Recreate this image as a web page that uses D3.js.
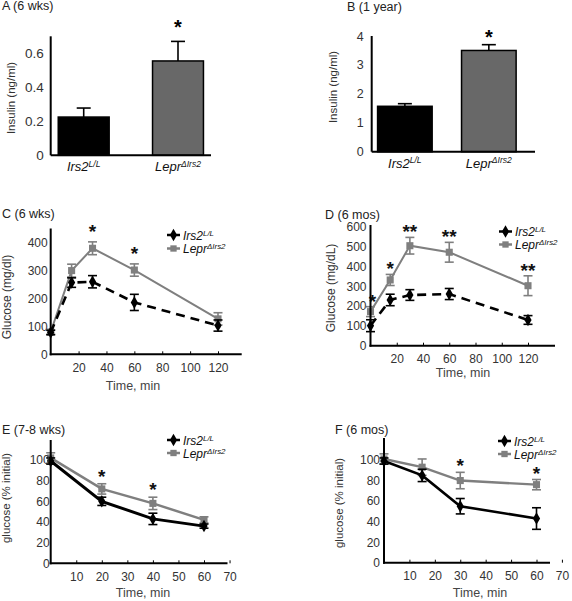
<!DOCTYPE html>
<html><head><meta charset="utf-8">
<script src="https://cdn.jsdelivr.net/npm/d3@7/dist/d3.min.js"></script>
<style>
body{margin:0;background:#fff;}
svg{font-family:"Liberation Sans",Arial,sans-serif;}
</style></head>
<body><svg id="c" width="572" height="601"></svg>
<script>
// ---------- DATA ----------
const groups = ["Irs2", "Lepr"];
const A_values = [0.225, 0.555];
const A_err = [0.053, 0.115];
const A_ticks = [0, 0.2, 0.4, 0.6];
const B_values = [1.57, 3.5];
const B_err = [0.09, 0.2];
const B_ticks = [0, 1, 2, 3, 4];

const C_time = [0, 15, 30, 60, 120];
const C_irs2 = [78, 257, 260, 186, 103];
const C_irs2_err = [8, 17, 22, 29, 20];
const C_lepr = [80, 300, 380, 302, 127];
const C_lepr_err = [8, 23, 23, 22, 22];
const C_stars = ["", "", "*", "*", ""];
const C_yticks = [0, 100, 200, 300, 400];
const C_xticks = [20, 40, 60, 80, 100, 120];

const D_time = [0, 15, 30, 60, 120];
const D_irs2 = [101, 231, 256, 261, 130];
const D_irs2_err = [30, 29, 27, 28, 22];
const D_lepr = [172, 332, 505, 472, 303];
const D_lepr_err = [25, 28, 42, 50, 50];
const D_stars = ["*", "*", "**", "**", "**"];
const D_yticks = [0, 100, 200, 300, 400, 500, 600];
const D_xticks = [20, 40, 60, 80, 100, 120];

const E_time = [0, 20, 40, 60];
const E_irs2 = [99, 60, 43, 36];
const E_irs2_err = [3, 4, 5.5, 2];
const E_lepr = [102, 72, 58, 42];
const E_lepr_err = [5, 5, 6, 3];
const E_stars = ["", "*", "*", ""];
const E_yticks = [0, 20, 40, 60, 80, 100];
const E_xticks = [10, 20, 30, 40, 50, 60, 70];

const F_time = [0, 15, 30, 60];
const F_irs2 = [99, 85, 55, 43];
const F_irs2_err = [3, 6, 7.5, 10.5];
const F_lepr = [101, 93, 80, 76];
const F_lepr_err = [5, 8, 8, 5];
const F_stars = ["", "", "*", "*"];
const F_yticks = [0, 20, 40, 60, 80, 100];
const F_xticks = [10, 20, 30, 40, 50, 60, 70];

// ---------- HELPERS ----------
const svg = d3.select("#c");
const GRAY = "#7f7f7f";
const BARGRAY = "#686868";

function geneLabel(sel, base, sup, x, y, size, anchor) {
  const t = sel.append("text").attr("x", x).attr("y", y)
    .attr("font-size", size).attr("font-style", "italic")
    .attr("text-anchor", anchor || "start").attr("fill", "#111");
  t.append("tspan").text(base);
  t.append("tspan").attr("font-size", size * 0.66).attr("dy", -size * 0.33).text(sup);
  return t;
}
function labelFor(g) { return g === "Irs2" ? ["Irs2", "L/L"] : ["Lepr", "\u0394Irs2"]; }

function title(x, y, txt) {
  svg.append("text").attr("x", x).attr("y", y).attr("font-size", 12.5).attr("fill", "#222").text(txt);
}
function yTitle(x, y, txt, size) {
  svg.append("text").attr("transform", `translate(${x},${y}) rotate(-90)`)
    .attr("text-anchor", "middle").attr("font-size", size).attr("fill", "#333").text(txt);
}

// ---------- BAR PANELS ----------
function barPanel(cfg) {
  const g = svg.append("g");
  const x = d3.scaleBand().domain(groups).range([cfg.x0, cfg.x1]).paddingInner(cfg.pin).paddingOuter(cfg.pout);
  const y = d3.scaleLinear().domain(cfg.ydom).range([cfg.yb, cfg.yt]);
  g.selectAll("rect.bar").data(groups).join("rect")
    .attr("x", d => x(d)).attr("width", x.bandwidth())
    .attr("y", (d, i) => y(cfg.values[i])).attr("height", (d, i) => y(0) - y(cfg.values[i]))
    .attr("fill", (d, i) => i === 0 ? "#000" : BARGRAY).attr("stroke", "#000").attr("stroke-width", 1.5);
  groups.forEach((d, i) => {
    const cx = x(d) + x.bandwidth() / 2;
    const top = y(cfg.values[i] + cfg.err[i]);
    g.append("line").attr("x1", cx).attr("x2", cx).attr("y1", y(cfg.values[i])).attr("y2", top).attr("stroke", "#000").attr("stroke-width", 1.6);
    g.append("line").attr("x1", cx - 7).attr("x2", cx + 7).attr("y1", top).attr("y2", top).attr("stroke", "#000").attr("stroke-width", 1.6);
    if (i === 1) g.append("text").attr("x", cx).attr("y", top + cfg.starDy).attr("text-anchor", "middle")
      .attr("font-size", 20).attr("font-weight", "bold").text("*");
    const [b, s] = labelFor(d);
    geneLabel(g, b, s, cx, cfg.yb + 16, cfg.lab, "middle");
  });
  const ax = g.append("g").attr("transform", `translate(${cfg.x0},0)`)
    .call(d3.axisLeft(y).tickValues(cfg.ticks).tickSize(0).tickPadding(cfg.pad).tickFormat(cfg.fmt));
  ax.select(".domain").remove();
  ax.selectAll("text").attr("font-size", cfg.tf).attr("fill", "#333").attr("font-family", "Liberation Sans, Arial, sans-serif");
  g.append("line").attr("x1", cfg.x0).attr("x2", cfg.x0).attr("y1", y(cfg.ydom[1])).attr("y2", cfg.yb).attr("stroke", "#000").attr("stroke-width", 2);
  g.append("line").attr("x1", cfg.x0).attr("x2", cfg.xe).attr("y1", cfg.yb).attr("y2", cfg.yb).attr("stroke", "#000").attr("stroke-width", 2);
}

barPanel({x0: 50.7, x1: 211, xe: 211, pin: 0.46, pout: 0.08, yb: 155.3, yt: 36.3, ydom: [0, 0.7],
  values: A_values, err: A_err, ticks: A_ticks, fmt: d => d === 0 ? "0" : d3.format(".1f")(d), pad: 7, tf: 13.5, lab: 13, starDy: -7});
barPanel({x0: 371.7, x1: 522, xe: 535, pin: 0.35, pout: 0.07, yb: 151.7, yt: 36, ydom: [0, 4],
  values: B_values, err: B_err, ticks: B_ticks, fmt: d3.format("d"), pad: 8, tf: 12.5, lab: 13, starDy: -1});
title(2, 10, "A (6 wks)");
title(347, 11, "B (1 year)");
yTitle(15, 98, "Insulin  (ng/ml)", 11.5);
yTitle(337, 87, "Insulin  (ng/ml)", 11.5);

// ---------- LINE PANELS ----------
function linePanel(cfg) {
  const g = svg.append("g");
  const x = d3.scaleLinear().domain(cfg.xdom).range([cfg.x0, cfg.x1]);
  const y = d3.scaleLinear().domain(cfg.ydom).range([cfg.yb, cfg.yt]);
  const series = [
    {v: cfg.irs2, e: cfg.irs2e, color: "#000", dash: cfg.dash, w: cfg.wb, mark: "diamond"},
    {v: cfg.lepr, e: cfg.lepre, color: GRAY, dash: null, w: cfg.wg, mark: "square"}
  ];
  const line = d3.line().x(d => x(d[0])).y(d => y(d[1]));
  [series[1], series[0]].forEach(s => {
    const pts = cfg.time.map((t, i) => [t, s.v[i]]);
    g.append("path").attr("d", line(pts)).attr("fill", "none").attr("stroke", s.color)
      .attr("stroke-width", s.w).attr("stroke-dasharray", s.dash);
    cfg.time.forEach((t, i) => {
      const cx = x(t), lo = y(s.v[i] - s.e[i]), hi = y(s.v[i] + s.e[i]);
      g.append("line").attr("x1", cx).attr("x2", cx).attr("y1", lo).attr("y2", hi).attr("stroke", s.color).attr("stroke-width", 1.6);
      [lo, hi].forEach(yy => g.append("line").attr("x1", cx - 4.5).attr("x2", cx + 4.5).attr("y1", yy).attr("y2", yy).attr("stroke", s.color).attr("stroke-width", 1.6));
      const sym = d3.symbol().type(s.mark === "diamond" ? d3.symbolDiamond : d3.symbolSquare).size(s.mark === "diamond" ? 45 : 50);
      g.append("path").attr("d", sym()).attr("transform", `translate(${cx},${y(s.v[i])})`).attr("fill", s.color);
    });
  });
  cfg.time.forEach((t, i) => {
    if (!cfg.stars[i]) return;
    const top = Math.min(y(cfg.irs2[i] + cfg.irs2e[i]), y(cfg.lepr[i] + cfg.lepre[i]));
    g.append("text").attr("x", x(t) + (i === 0 ? cfg.star0dx || 0 : 0)).attr("y", top + cfg.starDy + (i === 0 ? cfg.star0dy || 0 : 0))
      .attr("text-anchor", "middle").attr("font-size", 19).attr("font-weight", "bold").attr("fill", "#111").text(cfg.stars[i]);
  });
  const ay = g.append("g").attr("transform", `translate(${cfg.x0},0)`)
    .call(d3.axisLeft(y).tickValues(cfg.yticks).tickSize(0).tickPadding(cfg.ypad));
  ay.select(".domain").remove();
  ay.selectAll("text").attr("font-size", cfg.tf).attr("fill", "#333").attr("font-family", "Liberation Sans, Arial, sans-serif");
  const axx = g.append("g").attr("transform", `translate(0,${cfg.yb})`)
    .call(d3.axisBottom(x).tickValues(cfg.xticks).tickSize(-3).tickPadding(9));
  axx.select(".domain").remove();
  axx.selectAll("line").attr("stroke", "#000").attr("stroke-width", 1);
  axx.selectAll("text").attr("font-size", cfg.tf).attr("fill", "#333").attr("font-family", "Liberation Sans, Arial, sans-serif");
  g.append("line").attr("x1", cfg.x0).attr("x2", cfg.x0).attr("y1", cfg.ytop).attr("y2", cfg.yb + 1).attr("stroke", "#000").attr("stroke-width", 2);
  g.append("line").attr("x1", cfg.x0 - 1).attr("x2", cfg.xe).attr("y1", cfg.yb).attr("y2", cfg.yb).attr("stroke", "#000").attr("stroke-width", 2);
  const L = cfg.leg;
  [["Irs2", "#000", "diamond", L.y1], ["Lepr", GRAY, "square", L.y2]].forEach(([gname, col, mk, ly]) => {
    g.append("line").attr("x1", L.x).attr("x2", L.x + 13).attr("y1", ly).attr("y2", ly).attr("stroke", col).attr("stroke-width", 2.5);
    const sym = d3.symbol().type(mk === "diamond" ? d3.symbolDiamond : d3.symbolSquare).size(mk === "diamond" ? 45 : 40);
    g.append("path").attr("d", sym()).attr("transform", `translate(${L.x + 6.5},${ly})`).attr("fill", col);
    const [b, s] = labelFor(gname);
    geneLabel(g, b, s, L.x + 16, ly + 4.5, 12, "start");
  });
  g.append("text").attr("x", cfg.xtx).attr("y", cfg.xty).attr("text-anchor", "middle")
    .attr("font-size", 12.5).attr("fill", "#444").text("Time, min");
}

linePanel({x0: 50.7, x1: 218, xe: 241.7, xdom: [0, 120], yb: 354.3, yt: 242.7, ytop: 228.5, ydom: [0, 400],
  time: C_time, irs2: C_irs2, irs2e: C_irs2_err, lepr: C_lepr, lepre: C_lepr_err, stars: C_stars,
  yticks: C_yticks, xticks: C_xticks, ypad: 3, tf: 12, dash: "9,6", wb: 2.6, wg: 2, starDy: -4,
  leg: {x: 167, y1: 235, y2: 248.5}, xtx: 133, xty: 390});
title(2, 218, "C (6 wks)");
yTitle(11, 297, "Glucose (mg/dl)", 12);

linePanel({x0: 370.5, x1: 528, xe: 555, xdom: [0, 120], yb: 345.7, yt: 226.9, ytop: 225, ydom: [0, 600],
  time: D_time, irs2: D_irs2, irs2e: D_irs2_err, lepr: D_lepr, lepre: D_lepr_err, stars: D_stars,
  yticks: D_yticks, xticks: D_xticks, ypad: 4, tf: 12, dash: "9,6", wb: 2.6, wg: 2, starDy: 1,
  star0dx: 2, star0dy: 0,
  leg: {x: 499, y1: 231.5, y2: 244.5}, xtx: 463, xty: 377});
title(325, 218.5, "D (6 mos)");
yTitle(335, 288, "Glucose (mg/dL)", 12);

linePanel({x0: 50.7, x1: 204, xe: 227.5, xdom: [0, 60], yb: 563.3, yt: 460, ytop: 440, ydom: [0, 100],
  time: E_time, irs2: E_irs2, irs2e: E_irs2_err, lepr: E_lepr, lepre: E_lepr_err, stars: E_stars,
  yticks: E_yticks, xticks: E_xticks, ypad: 1, tf: 12, dash: null, wb: 3, wg: 2.5, starDy: -1,
  leg: {x: 167, y1: 440, y2: 453}, xtx: 143, xty: 596.5});
title(2, 433.5, "E (7-8 wks)");
yTitle(10, 498, "glucose (% initial)", 11.5);

linePanel({x0: 384, x1: 536.5, xe: 550, xdom: [0, 60], yb: 562.7, yt: 460, ytop: 438, ydom: [0, 100],
  time: F_time, irs2: F_irs2, irs2e: F_irs2_err, lepr: F_lepr, lepre: F_lepr_err, stars: F_stars,
  yticks: F_yticks, xticks: F_xticks, ypad: 4, tf: 12, dash: null, wb: 2.6, wg: 2.4, starDy: 0,
  leg: {x: 498, y1: 441, y2: 454}, xtx: 480, xty: 596.5});
title(335, 433.5, "F (6 mos)");
yTitle(343, 503, "glucose (% initial)", 11.5);
</script></body></html>
